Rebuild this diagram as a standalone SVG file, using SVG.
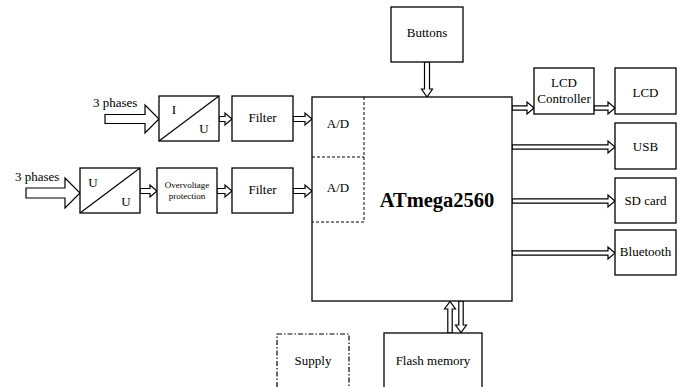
<svg xmlns="http://www.w3.org/2000/svg" width="680" height="387" viewBox="0 0 680 387">
<style>
.b{fill:#fff;stroke:#000;stroke-width:1.3}
.d{fill:none;stroke:#000;stroke-width:1;stroke-dasharray:3 2}
.dd{fill:none;stroke:#000;stroke-width:1.2;stroke-dasharray:5 2 1.5 2}
.a{fill:#fff;stroke:#000;stroke-width:1.2;stroke-linejoin:miter}
.l{stroke:#000;stroke-width:1.2}
text{font-family:"Liberation Serif","Times New Roman",serif;font-size:13px;fill:#000;text-anchor:middle}
.s{font-size:9px}
.big{font-size:20.5px;font-weight:bold}
.st{text-anchor:start}
</style>
<rect width="680" height="387" fill="#fff"/>
<g id="connectors">
<path class="a" d="M105 114.5H145V105L159 119L145 133V123.5H105Z"/>
<path class="a" d="M219 116.5H225V113L232 119L225 125V121.5H219Z"/>
<path class="a" d="M293 116.5H305V113L312 119L305 125V121.5H293Z"/>
<path class="a" d="M26 188H65V178L80 193L65 208V198H26Z"/>
<path class="a" d="M140 188.5H150V185L157 191L150 197V193.5H140Z"/>
<path class="a" d="M217 188.5H225V185L232 191L225 197V193.5H217Z"/>
<path class="a" d="M293 188.5H305V185L312 191L305 197V193.5H293Z"/>
<path class="a" d="M424.5 62V89H421.5L427 97L432.5 89H429.5V62Z"/>
<path class="a" d="M512 105.8H527V102L534 108L527 114V110.2H512Z"/>
<path class="a" d="M594 105.8H608V102L615 108L608 114V110.2H594Z"/>
<path class="a" d="M512 144.8H608V141L615 147L608 153V149.2H512Z"/>
<path class="a" d="M512 198.8H608V195L615 201L608 207V203.2H512Z"/>
<path class="a" d="M512 250.8H608V247L615 253L608 259V255.2H512Z"/>
<path class="a" d="M447.8 333V309H444.5L450 301.5L455.5 309H452.2V333Z"/>
<path class="a" d="M458.8 301V325H455.5L461 332.5L466.5 325H463.2V301Z"/>
</g>
<g id="iu">
<rect class="b" x="159" y="96" width="60" height="45"/>
<line class="l" x1="159" y1="141" x2="219" y2="96"/>
<text x="174" y="114">I</text>
<text x="204" y="133">U</text>
</g>
<g id="phases1"><text class="st" x="93" y="107">3 phases</text></g>
<g id="phases2"><text class="st" x="15" y="181">3 phases</text></g>
<g id="uu">
<rect class="b" x="80" y="168" width="60" height="45"/>
<line class="l" x1="80" y1="213" x2="140" y2="168"/>
<text x="93" y="187">U</text>
<text x="126" y="206">U</text>
</g>
<g id="filter1">
<rect class="b" x="232" y="96" width="61" height="45"/>
<text x="262.5" y="122">Filter</text>
</g>
<g id="overvoltage">
<rect class="b" x="157" y="168" width="60" height="45"/>
<text class="s" x="187" y="188">Overvoltage</text>
<text class="s" x="187" y="199">protection</text>
</g>
<g id="filter2">
<rect class="b" x="232" y="168" width="61" height="45"/>
<text x="262.5" y="194">Filter</text>
</g>
<g id="atmega">
<rect class="b" x="312" y="97" width="200" height="204"/>
<path class="d" d="M364 97V222H312M312 157H364"/>
<text x="338" y="128">A/D</text>
<text x="338" y="192">A/D</text>
<text class="big" x="437" y="207">ATmega2560</text>
</g>
<g id="buttons">
<rect class="b" x="391" y="7" width="72" height="55"/>
<text x="427" y="37">Buttons</text>
</g>
<g id="lcdcontroller">
<rect class="b" x="534" y="68" width="60" height="46"/>
<text x="564" y="87">LCD</text>
<text x="564" y="103">Controller</text>
</g>
<g id="lcd">
<rect class="b" x="615" y="68" width="61" height="46"/>
<text x="645.5" y="97">LCD</text>
</g>
<g id="usb">
<rect class="b" x="615" y="123" width="61" height="46"/>
<text x="645.5" y="151">USB</text>
</g>
<g id="sdcard">
<rect class="b" x="615" y="178" width="61" height="45"/>
<text x="645.5" y="205">SD card</text>
</g>
<g id="bluetooth">
<rect class="b" x="615" y="230" width="61" height="45"/>
<text x="645.5" y="256">Bluetooth</text>
</g>
<g id="supply">
<rect class="dd" x="277" y="334" width="72" height="70"/>
<text x="313" y="365">Supply</text>
</g>
<g id="flash">
<rect class="b" x="384" y="333" width="98" height="70"/>
<text x="433" y="365">Flash memory</text>
</g>
</svg>
